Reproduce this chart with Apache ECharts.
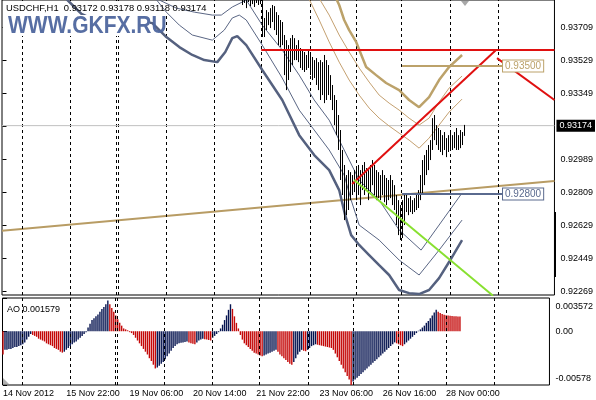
<!DOCTYPE html>
<html><head><meta charset="utf-8">
<script src="https://cdn.jsdelivr.net/npm/echarts@6/dist/echarts.min.js"></script>
<style>html,body{margin:0;padding:0;background:#fff}#c{width:596px;height:400px}</style>
</head><body><div id="c"></div>
<script>
// ---- data ----
const timeLabels = ['14 Nov 2012','15 Nov 22:00','19 Nov 06:00','20 Nov 14:00','21 Nov 22:00','23 Nov 06:00','26 Nov 16:00','28 Nov 00:00'];
const timeLabelIdx = [0,32,64,96,128,160,192,224];
const separatorIdx = [9.75,33.75,56.75,57.75,81.75,105.75,129.75,154.25,177.25,199.75,224.25,248.25];
const priceTicks = [0.92269,0.92449,0.92629,0.92809,0.92989,0.93169,0.93349,0.93529,0.93709];
const aoTicks = [-0.00578,0,0.003572];
const aoTickLabels = ['-0.00578','0.00','0.003572'];
const lastPrice = 0.93174;
const titleText = 'USDCHF,H1  0.93172 0.93178 0.93118 0.93174';
const aoTitle = 'AO 0.001579';
const priceStart = 120;
const barHigh = [0.93915,0.93915,0.93915,0.93915,0.93915,0.93915,0.93915,0.93915,0.93915,0.93915,
0.93887,0.93762,0.93805,0.93794,0.93816,0.93833,0.93827,0.93794,0.93778,0.93751,
0.93740,0.93669,0.93641,0.93614,0.93652,0.93669,0.93652,0.93614,0.93641,0.93598,
0.93587,0.93576,0.93560,0.93587,0.93576,0.93549,0.93532,0.93543,0.93521,0.93532,
0.93521,0.93560,0.93532,0.93505,0.93450,0.93396,0.93341,0.93314,0.93232,0.93150,
0.93041,0.92959,0.92904,0.92931,0.92920,0.92904,0.92931,0.92942,0.92959,0.92931,
0.92959,0.92975,0.92942,0.92931,0.92959,0.92986,0.92959,0.92931,0.92920,0.92904,
0.92931,0.92904,0.92888,0.92877,0.92904,0.92877,0.92849,0.92795,0.92767,0.92740,
0.92767,0.92795,0.92795,0.92778,0.92789,0.92767,0.92778,0.92795,0.92822,0.92904,
0.92986,0.93013,0.93041,0.93068,0.93095,0.93215,0.93232,0.93177,0.93161,0.93150,
0.93122,0.93139,0.93106,0.93122,0.93150,0.93122,0.93139,0.93161,0.93122,0.93150,
0.93139,0.93178];
const barLow = [0.93833,0.93844,0.93816,0.93849,0.93827,0.93838,0.93822,0.93844,0.93833,0.93838,
0.93658,0.93658,0.93696,0.93723,0.93707,0.93740,0.93696,0.93669,0.93614,0.93603,
0.93614,0.93450,0.93368,0.93423,0.93467,0.93505,0.93532,0.93532,0.93521,0.93489,
0.93478,0.93467,0.93478,0.93489,0.93450,0.93423,0.93434,0.93396,0.93368,0.93314,
0.93341,0.93297,0.93314,0.93341,0.93314,0.93259,0.93177,0.93122,0.93041,0.92877,
0.92795,0.92658,0.92685,0.92713,0.92767,0.92795,0.92811,0.92767,0.92795,0.92740,
0.92822,0.92795,0.92822,0.92767,0.92811,0.92849,0.92795,0.92767,0.92778,0.92767,
0.92795,0.92756,0.92740,0.92767,0.92778,0.92740,0.92713,0.92631,0.92576,0.92549,
0.92560,0.92631,0.92702,0.92685,0.92702,0.92691,0.92702,0.92713,0.92724,0.92767,
0.92795,0.92849,0.92904,0.92931,0.92986,0.93041,0.93095,0.93068,0.93041,0.93030,
0.93013,0.93041,0.93002,0.93030,0.93041,0.93041,0.93051,0.93041,0.93041,0.93051,
0.93068,0.93118];
const aoValues = [-0.0025,
-0.0020,-0.0020,-0.0019,-0.0019,-0.0018,-0.0017,-0.0017,-0.0016,-0.0015,-0.0014,
-0.0012,-0.0009,-0.0006,
-0.0003,-0.0004,-0.0005,-0.0006,-0.0008,-0.0009,-0.0010,-0.0011,-0.0013,-0.0014,-0.0015,-0.0016,-0.0018,-0.0019,-0.0020,-0.0022,-0.0023,
-0.0022,-0.0020,-0.0018,-0.0016,-0.0014,-0.0012,-0.0011,-0.0009,-0.0007,-0.0005,-0.0003,-0.0001,
0.0004,0.0008,0.0012,0.0014,0.0016,0.0018,0.0021,0.0024,0.0026,0.0029,0.0033,
0.0029,0.0025,0.0021,0.0017,0.0013,0.0009,0.0006,0.0003,
0.0002,0.0001,-0.0001,-0.0002,
-0.0004,-0.0007,-0.0010,-0.0013,-0.0016,-0.0019,-0.0022,-0.0025,-0.0029,-0.0032,-0.0036,-0.0040,
-0.0039,-0.0037,-0.0035,-0.0033,-0.0030,-0.0027,-0.0024,-0.0021,-0.0018,-0.0016,-0.0014,
-0.0013,-0.00125,-0.0012,-0.00115,-0.0011,-0.0012,-0.0013,-0.00135,-0.0014,-0.0012,-0.0010,-0.0009,-0.0008,-0.00085,-0.0009,-0.00095,-0.0010,
-0.0007,-0.0005,-0.0003,-0.0001,
0.0003,0.0007,0.0012,0.0017,0.0023,0.0029,
0.0024,0.0016,0.0009,0.0003,
-0.0004,-0.0009,-0.0013,-0.0015,-0.0017,-0.0019,-0.0021,-0.0023,-0.0024,-0.0025,-0.0026,-0.0027,
-0.0026,-0.0025,-0.0024,-0.0023,-0.0022,-0.0021,-0.0020,
-0.0022,-0.0025,-0.0027,-0.0029,-0.0031,-0.0033,-0.0035,-0.0036,
-0.0033,-0.0029,-0.0025,-0.0022,-0.0020,
-0.0021,-0.00215,
-0.0020,-0.0018,-0.0016,-0.0015,-0.0014,
-0.00145,-0.0015,-0.00155,-0.0016,-0.00165,-0.0017,-0.00175,-0.0018,
-0.0020,-0.0024,-0.0028,-0.0032,-0.0036,-0.0040,-0.0044,-0.0048,-0.0052,-0.00578,
-0.0054,-0.0052,-0.0050,-0.0048,-0.0046,-0.0044,-0.0042,-0.0040,-0.0038,-0.0036,-0.0034,-0.0032,-0.0030,-0.0028,-0.0026,-0.0024,-0.0022,-0.0020,-0.0018,-0.0016,-0.0014,-0.0012,
-0.0013,-0.0014,-0.0015,-0.0016,
-0.0014,-0.0012,-0.0010,-0.0008,-0.0006,-0.0004,-0.0002,0.00005,
0.0002,0.0004,0.0006,0.0009,0.0011,0.0014,0.0017,0.0020,0.0023,
0.0021,0.00195,0.00185,0.00178,0.00173,0.00169,0.00166,0.00164,0.00162,0.001605,0.00159,0.001579];
// Bollinger-style bands [bar index, price]
const bandLow3 = [[30.5,0.93893],[32.5,0.93860],[36,0.93822],[39.5,0.93784],[46,0.93751],[58.5,0.93740],[68.5,0.93745],[75,0.93734],[82,0.93658],[88.5,0.93603],[95,0.93560],[101,0.93532],[107.5,0.93521],[111.5,0.93576],[115,0.93652],[117.5,0.93663],[122,0.93614],[130,0.93478],[140,0.93314],[148.5,0.93122],[156,0.93013],[163.5,0.92931],[168.5,0.92822],[171.5,0.92685],[174.5,0.92576],[178.5,0.92522],[183.5,0.92467],[188.5,0.92412],[193.5,0.92358],[198.5,0.92276],[203.5,0.92259],[208.5,0.92254],[213.5,0.92276],[218.5,0.92341],[223.5,0.92429],[230,0.92549]];
const bandLow2 = [[76,0.93876],[82,0.93794],[88.5,0.93723],[95,0.93669],[105,0.93641],[111,0.93696],[115,0.93762],[118.5,0.93778],[122,0.93751],[130,0.93614],[140,0.93434],[148.5,0.93259],[156,0.93150],[163.5,0.93041],[171,0.92904],[174.5,0.92767],[178.5,0.92631],[188.5,0.92549],[198.5,0.92440],[208.5,0.92358],[218.5,0.92494],[230,0.92658]];
const bandLow1 = [[78.5,0.93860],[87,0.93816],[96,0.93794],[105,0.93778],[109.5,0.93778],[115,0.93822],[122,0.93860],[130,0.93723],[140,0.93587],[148.5,0.93450],[156,0.93314],[163.5,0.93204],[171,0.93041],[178.5,0.92877],[188.5,0.92767],[198.5,0.92604],[209.5,0.92494],[218.5,0.92631],[230,0.92806]];
const bandUp3 = [[165,0.93915],[168.5,0.93833],[171,0.93751],[173.5,0.93696],[177,0.93631],[182,0.93494],[187,0.93450],[192,0.93407],[198.5,0.93368],[203.5,0.93314],[208.5,0.93275],[213.5,0.93330],[218.5,0.93423],[223.5,0.93494],[230,0.93560]];
const bandUp2 = [[157.5,0.93887],[163.5,0.93778],[168.5,0.93669],[173.5,0.93576],[178.5,0.93489],[183.5,0.93412],[188.5,0.93341],[193.5,0.93297],[198.5,0.93259],[203.5,0.93215],[208.5,0.93177],[213.5,0.93215],[218.5,0.93303],[223.5,0.93379],[230,0.93445]];
const bandUp1 = [[152.5,0.93887],[158.5,0.93751],[163.5,0.93631],[168.5,0.93521],[173.5,0.93423],[178.5,0.93341],[183.5,0.93270],[188.5,0.93215],[193.5,0.93172],[198.5,0.93133],[203.5,0.93095],[208.5,0.93051],[213.5,0.93106],[218.5,0.93177],[223.5,0.93248],[230,0.93319]];
// drawn objects [bar index, price]
const resistanceLine = [[129.5,0.93587],[276.25,0.93587]];
const redUpTrend = [[175,0.92855],[247,0.93587]];
const redDownTrend = [[247.5,0.93543],[276.25,0.93314]];
const greenTrend = [[176,0.92877],[245.5,0.92245]];
const tanLongTrend = [[-0.25,0.92600],[276.25,0.92871]];
const level1 = {price:0.92800, from:200, to:250, text:'0.92800'};
const level2 = {price:0.93500, from:200, to:250, text:'0.93500'};

// ---- chart ----
const FONT = '"Liberation Sans", Arial, sans-serif';
const NAVY = '#061450', RED = '#c40808';
const aoColors = aoValues.map((v,i)=>{
  let c = RED;
  for (let k=i;k>0;k--){ if(aoValues[k]>aoValues[k-1]){c=NAVY;break;} if(aoValues[k]<aoValues[k-1]){c=RED;break;} }
  return c;
});
function lineSeries(data, color, width, extra){
  return Object.assign({type:'line', xAxisIndex:0, yAxisIndex:0, data:data, symbol:'none', silent:true, clip:true,
    zlevel:1, lineStyle:{color:color, width:width}, z:3}, extra||{});
}
const sepLine = {silent:true, symbol:'none', label:{show:false}, lineStyle:{color:'#000', type:[3,3], width:1}, data:separatorIdx.map(v=>({xAxis:v}))};
const chart = echarts.init(document.getElementById('c'), null, {renderer:'canvas'});
const option = {
  animation:false,
  backgroundColor:'#fff',
  textStyle:{fontFamily:FONT},
  grid:[
    {left:2, top:0, width:553, height:295, show:true, borderColor:'#000', borderWidth:1, backgroundColor:'#fff'},
    {left:2, top:298, width:553, height:87, show:true, borderColor:'#000', borderWidth:1, backgroundColor:'#fff'}
  ],
  xAxis:[
    {gridIndex:0, type:'value', min:-0.25, max:276.25, show:false},
    {gridIndex:1, type:'value', min:-0.25, max:276.25, axisLine:{show:false}, axisTick:{show:false}, splitLine:{show:false},
     axisLabel:{customValues:timeLabelIdx, formatter:v=>timeLabels[timeLabelIdx.indexOf(v)]||'', align:'left',
       fontSize:9, color:'#000', margin:4, fontFamily:FONT}}
  ],
  yAxis:[
    {gridIndex:0, type:'value', position:'right', min:0.922488, max:0.938603, splitLine:{show:false}, axisLine:{show:false},
     axisTick:{show:true, customValues:priceTicks, length:4, lineStyle:{color:'#000'}},
     axisLabel:{customValues:priceTicks, formatter:v=>v.toFixed(5), fontSize:9, color:'#000', margin:6, fontFamily:FONT}},
    {gridIndex:1, type:'value', position:'right', min:-0.00578, max:0.003572, splitLine:{show:false}, axisLine:{show:false},
     axisTick:{show:true, customValues:aoTicks, length:4, lineStyle:{color:'#000'}},
     axisLabel:{customValues:aoTicks, fontSize:9, color:'#000', margin:6, fontFamily:FONT,
       formatter:v=>{const k=aoTicks.indexOf(v); const t=aoTickLabels[k]; return k===2?'{t|'+t+'}':(k===0?'{b|'+t+'}':t);},
       rich:{t:{padding:[17,0,0,0],fontSize:9,color:'#000'}, b:{padding:[0,0,13,0],fontSize:9,color:'#000'}}}}
  ],
  graphic:[
    {type:'rect', left:3, top:1, zlevel:1, z:0, shape:{width:206, height:14}, style:{fill:'#fff'}},
    {type:'rect', left:3, top:15, zlevel:1, z:6, shape:{width:147, height:21}, style:{fill:'#fff'}},
    {type:'text', left:8, top:15, zlevel:1, z:7, scaleY:1.12, style:{text:'WWW.GKFX.RU', font:'bold 21px "Liberation Sans", Arial, sans-serif', fill:'rgba(78,102,158,0.95)'}},
    {type:'text', left:6, top:4, zlevel:1, z:10, style:{text:titleText, font:'9.4px "Liberation Sans", Arial, sans-serif', fill:'#000'}},
    {type:'text', left:7, top:305, zlevel:1, z:10, style:{text:aoTitle, font:'9px "Liberation Sans", Arial, sans-serif', fill:'#000'}},
    {type:'rect', left:554, top:212, zlevel:1, z:10, shape:{width:2, height:65}, style:{fill:'#000'}},
    {type:'polygon', zlevel:1, z:10, shape:{points:[[461,1],[469,1],[465,6]]}, style:{fill:'#a8a8a8'}},
    {type:'polygon', zlevel:1, z:10, shape:{points:[[3,378],[3,384],[9,384]]}, style:{fill:'#b0b0b0'}}
  ],
  series:[
    lineSeries(tanLongTrend, '#b89c64', 2, {markLine:sepLine, z:2, zlevel:0}),
    lineSeries([[-0.25,lastPrice],[276.25,lastPrice]], '#c0c0c0', 1, {z:2,
      endLabel:{show:true, formatter:lastPrice.toFixed(5), backgroundColor:'#000', color:'#fff', padding:[2,3,1,3], fontSize:9, distance:2, fontFamily:FONT}}),
    lineSeries(bandLow3, '#55617f', 2.5),
    lineSeries(bandLow2, '#5a6684', 1),
    lineSeries(bandLow1, '#5a6684', 1),
    lineSeries(bandUp3, '#bca26a', 2.5),
    lineSeries(bandUp2, '#c4a070', 1),
    lineSeries(bandUp1, '#c4a070', 1),
    {type:'custom', xAxisIndex:0, yAxisIndex:0, clip:true, silent:true, zlevel:1, z:4,
     data: barHigh.map((h,k)=>[priceStart+k, h, barLow[k]]),
     encode:{x:0, y:[1,2]},
     renderItem:(params, api)=>{
       const x=api.value(0); const a=api.coord([x, api.value(1)]); const b=api.coord([x, api.value(2)]);
       const px=Math.floor(a[0])+0.5;
       return {type:'line', shape:{x1:px, y1:a[1], x2:px, y2:b[1]}, style:{stroke:'#000', lineWidth:1}};
     }},
    lineSeries(resistanceLine, '#e01010', 2, {z:5}),
    lineSeries(redUpTrend, '#e01010', 2, {z:5}),
    lineSeries(redDownTrend, '#e01010', 2, {z:5}),
    lineSeries(greenTrend, '#88e030', 2, {z:5}),
    lineSeries([[level1.from,level1.price],[level1.to,level1.price]], '#5a6a8e', 2, {z:5,
      endLabel:{show:true, formatter:level1.text, color:'#5a6a8e', borderColor:'#5a6a8e', borderWidth:1, backgroundColor:'#fff', padding:[1,2,0,2], fontSize:10, distance:1, fontFamily:FONT}}),
    lineSeries([[level2.from,level2.price],[level2.to,level2.price]], '#bca26a', 2, {z:5,
      endLabel:{show:true, formatter:level2.text, color:'#bca26a', borderColor:'#bca26a', borderWidth:1, backgroundColor:'#fff', padding:[1,2,0,2], fontSize:10, distance:1, fontFamily:FONT}}),
    {type:'bar', xAxisIndex:1, yAxisIndex:1, barWidth:1.4, silent:true, z:3,
     data: aoValues.map((v,i)=>({value:[i,v], itemStyle:{color:aoColors[i]}})),
     markLine:sepLine}
  ]
};
chart.setOption(option);
</script></body></html>
